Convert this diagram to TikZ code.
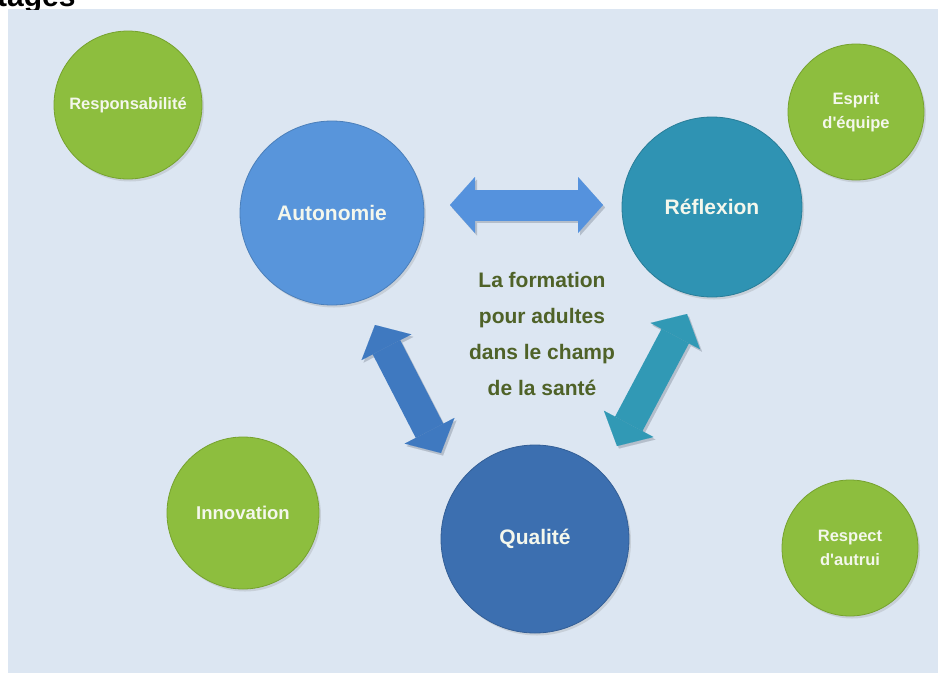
\documentclass[tikz,border=0pt]{standalone}
\usepackage{fontspec}
\setmainfont{Liberation Sans}
\usetikzlibrary{shadows,arrows.meta}
\definecolor{bgblue}{HTML}{DCE6F2}
\definecolor{leafgreen}{HTML}{8DBE3E}
\definecolor{leafrim}{HTML}{76A22E}
\definecolor{autoblue}{HTML}{5895DB}
\definecolor{reflteal}{HTML}{2F93B3}
\definecolor{qualblue}{HTML}{3C6FB0}
\definecolor{harrowc}{HTML}{5592DD}
\definecolor{larrowc}{HTML}{3F79C0}
\definecolor{rarrowc}{HTML}{3199B5}
\definecolor{olivetext}{HTML}{4F6228}
\definecolor{labelwhite}{HTML}{F4F7EC}
\definecolor{shadowc}{HTML}{B4BECB}
\begin{document}
\begin{tikzpicture}[x=1pt,y=-1pt,
  bubble/.style={circle, inner sep=0pt, align=center, text=labelwhite,
    drop shadow={opacity=0.22, shadow xshift=2pt, shadow yshift=-2.5pt}},
  greenbubble/.style={bubble, fill=leafgreen, draw=leafrim, line width=0.8pt},
  bigarrow/.style={line width=31pt,
    {Triangle[length=25pt,width=56pt,line width=0.01pt]}-{Triangle[length=25pt,width=56pt,line width=0.01pt]}},
  mainlabel/.style={font=\bfseries\fontsize{21}{25}\selectfont},
  smalllabel/.style={font=\bfseries\fontsize{16.5}{24}\selectfont}
]
\useasboundingbox (0,0) rectangle (938,673);
\fill[white] (0,0) rectangle (938,673);
\fill[bgblue] (8,9) rectangle (938,673);
\begin{scope}
\clip (0,0) rectangle (938,9);
\node[anchor=base west, inner sep=0pt, font=\bfseries\fontsize{30}{30}\selectfont] (title) at (-3,6) {tages};
\end{scope}

% green satellite circles
\node[greenbubble, minimum size=148pt, smalllabel] (resp) at (128,105) {Responsabilité};
\node[greenbubble, minimum size=136pt, smalllabel] (esprit) at (856,112) {Esprit\\d\textquotesingle équipe};
\node[greenbubble, minimum size=152pt, font=\bfseries\fontsize{18.5}{24}\selectfont] (innov) at (243,513) {Innovation};
\node[greenbubble, minimum size=136pt, smalllabel] (respect) at (850,548) {Respect\\d\textquotesingle autrui};

% main circles
\node[bubble, fill=autoblue, draw=autoblue!85!black, line width=0.8pt, minimum size=184pt, mainlabel] (auto) at (332,213) {Autonomie};
\node[bubble, fill=reflteal, draw=reflteal!85!black, line width=0.8pt, minimum size=180pt, mainlabel] (refl) at (712,207) {Réflexion};
\node[bubble, fill=qualblue, draw=qualblue!85!black, line width=0.8pt, minimum size=188pt, mainlabel] (qual) at (535,539) {Qualité};

% centre text
\node[align=center, text=olivetext, font=\bfseries\fontsize{21}{36}\selectfont] (centre) at (542,334)
  {La formation\\pour adultes\\dans le champ\\de la santé};

% arrow end points
\coordinate (h1) at (450,205);
\coordinate (h2) at (603,205);
\coordinate (l1) at (375,325);
\coordinate (l2) at (441,453);
\coordinate (r1) at (687,314);
\coordinate (r2) at (617,446);

% shadows of arrows
\begin{scope}[transform canvas={shift={(2pt,-2.5pt)}}]
\draw[bigarrow, shadowc] (h1) -- (h2);
\draw[bigarrow, shadowc] (l1) -- (l2);
\draw[bigarrow, shadowc] (r1) -- (r2);
\end{scope}
% arrows
\draw[bigarrow, harrowc] (h1) -- (h2);
\draw[bigarrow, larrowc] (l1) -- (l2);
\draw[bigarrow, rarrowc] (r1) -- (r2);
\end{tikzpicture}
\end{document}
